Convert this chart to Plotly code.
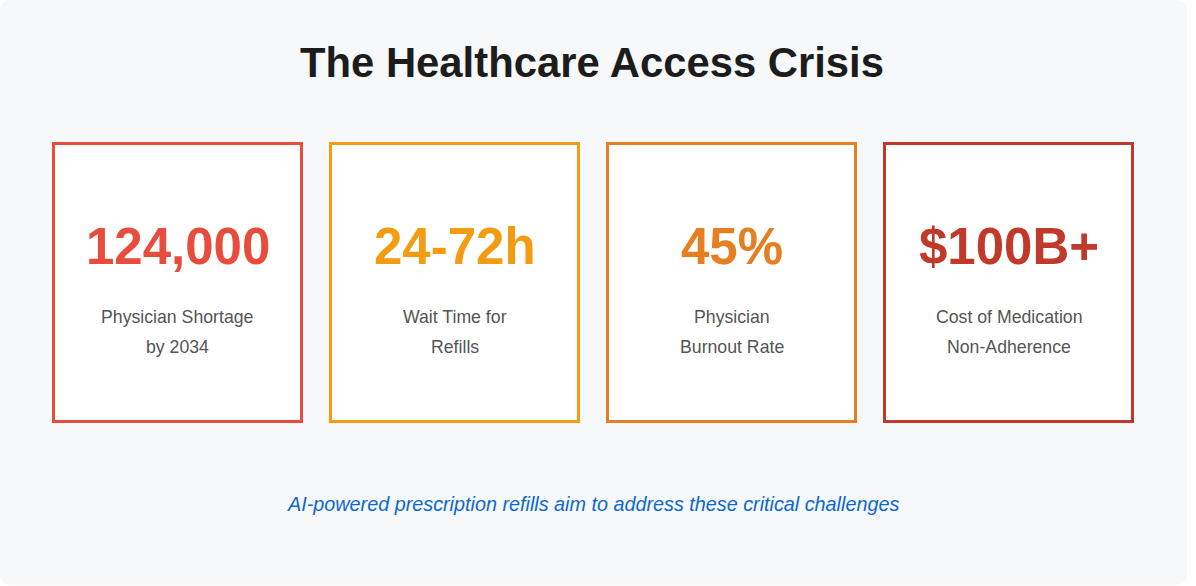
#!/usr/bin/env python

import plotly.graph_objects as go


# Card contents, left to right.
VALUES = ['124,000', '24-72h', '45%', '$100B+']
LABEL_TOP = ['Physician Shortage', 'Wait Time for', 'Physician', 'Cost of Medication']
LABEL_BOTTOM = ['by 2034', 'Refills', 'Burnout Rate', 'Non-Adherence']
COLORS = ['#e74c3c', '#f39c12', '#e67e22', '#c0392b']

TITLE = 'The Healthcare Access Crisis'
FOOTER = 'AI-powered prescription refills aim to address these critical challenges'

W, H = 1196, 586
FONT = 'Liberation Sans, Arial, Helvetica, sans-serif'


def rounded_rect(x0, y0, x1, y1, r):
    '''
    SVG path for a rounded rectangle (y axis points down).
    '''
    return (f'M{x0 + r},{y0} L{x1 - r},{y0} Q{x1},{y0} {x1},{y0 + r} '
            f'L{x1},{y1 - r} Q{x1},{y1} {x1 - r},{y1} '
            f'L{x0 + r},{y1} Q{x0},{y1} {x0},{y1 - r} '
            f'L{x0},{y0 + r} Q{x0},{y0} {x0 + r},{y0} Z')


def main():
    fig = go.Figure()

    shapes = [dict(type='path', path=rounded_rect(0, 0, 1187, 585, 12),
                   xref='x', yref='y', fillcolor='#f7f8fa', line=dict(width=0), layer='below')]
    annotations = [dict(text=f'<b>{TITLE}</b>', x=591.5, y=62, xref='x', yref='y', showarrow=False,
                        font=dict(family=FONT, size=41.8, color='#1c1c1c'))]

    # Card grid: 4 cells, fixed pitch.
    left, card_w, pitch, top, bottom, bw = 52, 251, 277, 142, 423, 3
    for i, (val, top_txt, bot_txt, col) in enumerate(zip(VALUES, LABEL_TOP, LABEL_BOTTOM, COLORS)):
        x0 = left + i * pitch
        cx = x0 + card_w / 2
        shapes.append(dict(type='rect', xref='x', yref='y',
                           x0=x0 + bw / 2, x1=x0 + card_w - bw / 2,
                           y0=top + bw / 2, y1=bottom - bw / 2,
                           fillcolor='white', line=dict(color=col, width=bw)))
        annotations.append(dict(text=f'<b>{val}</b>', x=cx, y=246, xref='x', yref='y', showarrow=False,
                                font=dict(family=FONT, size=51, color=col)))
        annotations.append(dict(text=top_txt, x=cx, y=317, xref='x', yref='y', showarrow=False,
                                font=dict(family=FONT, size=17.7, color='#555555')))
        annotations.append(dict(text=bot_txt, x=cx, y=347, xref='x', yref='y', showarrow=False,
                                font=dict(family=FONT, size=17.7, color='#555555')))

    annotations.append(dict(text=f'<i>{FOOTER}</i>', x=593.3, y=504, xref='x', yref='y', showarrow=False,
                            font=dict(family=FONT, size=19.8, color='#0b68cf')))

    fig.update_layout(
        width=W, height=H,
        margin=dict(l=0, r=0, t=0, b=0),
        paper_bgcolor='white', plot_bgcolor='white',
        xaxis=dict(range=[0, W], visible=False, fixedrange=True),
        yaxis=dict(range=[H, 0], visible=False, fixedrange=True),
        shapes=shapes, annotations=annotations,
        showlegend=False,
    )
    # drop the default 8px page margin so the figure sits at the window corner
    fig.write_html('out.html', config={'displayModeBar': False},
                   post_script="document.body.style.margin='0';")


if __name__ == '__main__':
    main()
